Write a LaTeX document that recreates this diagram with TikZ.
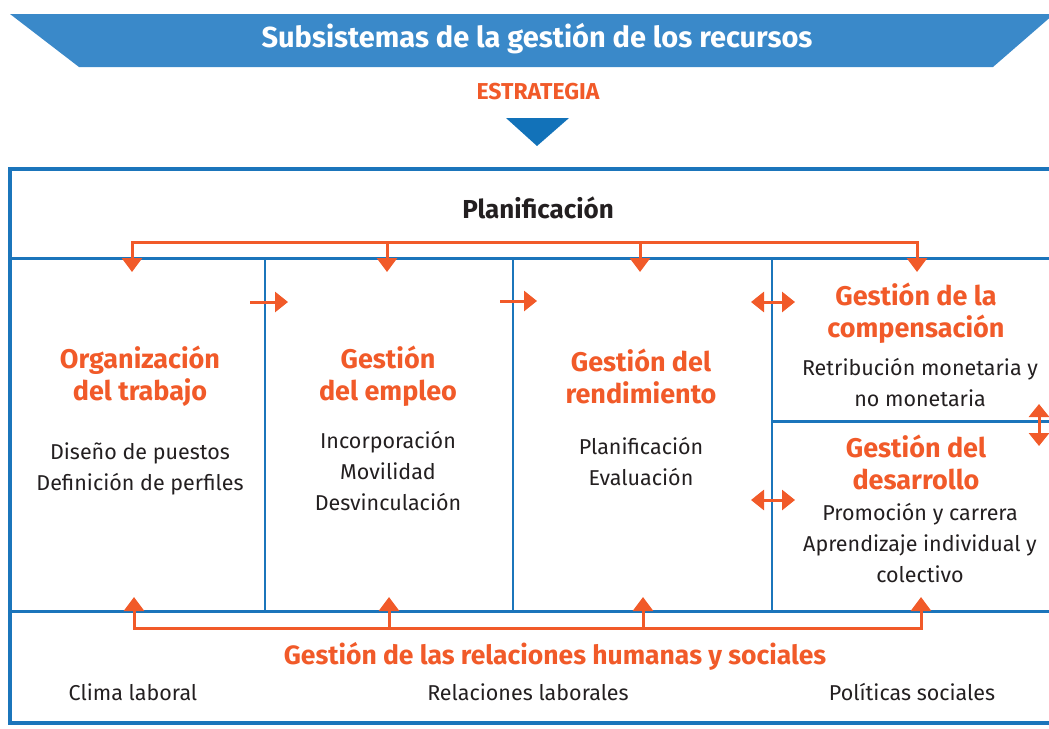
\documentclass[tikz,border=0pt]{standalone}
\usepackage{fontspec}
\setmainfont{Fira Sans}
\usetikzlibrary{arrows.meta}
\definecolor{bblue}{HTML}{1B75BB}
\definecolor{banner}{HTML}{3A89C9}
\definecolor{tri}{HTML}{1272B9}
\definecolor{org}{HTML}{F15A29}
\definecolor{txt}{HTML}{231F20}
\begin{document}
\begin{tikzpicture}[x=1pt,y=-1pt,
  frame/.style={draw=bblue, line width=4pt},
  hline/.style={draw=bblue, line width=3pt},
  vline/.style={draw=bblue, line width=2pt},
  oline/.style={draw=org, line width=3pt},
  oarr/.style={oline, -{Triangle[width=20pt,length=14pt]}},
  sarr/.style={oline, -{Triangle[width=20pt,length=13pt]}},
  darr/.style={oline, {Triangle[width=20pt,length=13pt]}-{Triangle[width=20pt,length=13pt]}},
  ttl/.style={font=\bfseries\fontsize{27}{32}\selectfont, text=org, align=center, inner sep=0pt},
  body/.style={font=\fontsize{21.5}{31}\selectfont, text=txt, align=center, inner sep=0pt},
]
\path[use as bounding box] (0,0) rectangle (1049,728);
\clip (0,0) rectangle (1049,728);
% banner
\fill[banner] (10,14) -- (1054,14) -- (993,67) -- (79,67) -- cycle;
\node[font=\bfseries\fontsize{29}{34}\selectfont, text=white, inner sep=0pt] (head) at (537,39) {Subsistemas de la gestión de los recursos};
\node[font=\bfseries\fontsize{23}{28}\selectfont, text=org, inner sep=0pt] (estr) at (538,92) {ESTRATEGIA};
\fill[tri] (506,118) -- (569,118) -- (537,146) -- cycle;
% frame
\draw[frame] (10,169) rectangle (1062,723);
\draw[hline] (10,258) -- (1062,258);
\draw[hline] (10,611) -- (1062,611);
\draw[vline] (265,258) -- (265,611);
\draw[vline] (513,258) -- (513,611);
\draw[vline] (772,258) -- (772,611);
\draw[hline] (772,421) -- (1062,421);
% texts
\node[font=\bfseries\fontsize{26}{30}\selectfont, text=txt, inner sep=0pt] (plan) at (538,208) {Planificación};
\node[ttl] (org1) at (140,376) {Organización\\del trabajo};
\node[body] (org2) at (140,469) {Diseño de puestos\\Definición de perfiles};
\node[ttl] (emp1) at (388,376) {Gestión\\del empleo};
\node[body] (emp2) at (388,471) {Incorporación\\Movilidad\\Desvinculación};
\node[ttl] (ren1) at (641,376) {Gestión del\\rendimiento};
\node[body] (ren2) at (641,462) {Planificación\\Evaluación};
\node[ttl] (com1) at (916,313) {Gestión de la\\compensación};
\node[body] (com2) at (920,383) {Retribución monetaria y\\no monetaria};
\node[ttl] (des1) at (916,462) {Gestión del\\desarrollo};
\node[body] (des2) at (920,543) {Promoción y carrera\\Aprendizaje individual y\\colectivo};
\node[font=\bfseries\fontsize{26.5}{30}\selectfont, text=org, inner sep=0pt] (rel) at (555,656) {Gestión de las relaciones humanas y sociales};
\node[body] (cl) at (133,692) {Clima laboral};
\node[body] (rl) at (528,692) {Relaciones laborales};
\node[body] (ps) at (912,692) {Políticas sociales};
% top tree
\coordinate (t1) at (132,242); \coordinate (t2) at (387,242);
\coordinate (t3) at (640,242); \coordinate (t4) at (917,242);
\coordinate (a1) at (132,272); \coordinate (a2) at (387,272);
\coordinate (a3) at (640,272); \coordinate (a4) at (917,272);
\draw[oline, {Triangle[width=20pt,length=14pt]}-{Triangle[width=20pt,length=14pt]}] (a1) -- (t1) -- (t4) -- (a4);
\draw[oarr] (t2) -- (a2);
\draw[oarr] (t3) -- (a3);
% bottom tree
\coordinate (b1) at (134,628); \coordinate (b2) at (389,628);
\coordinate (b3) at (643,628); \coordinate (b4) at (921,628);
\coordinate (u1) at (134,597); \coordinate (u2) at (389,597);
\coordinate (u3) at (643,597); \coordinate (u4) at (921,597);
\draw[oline, {Triangle[width=20pt,length=14pt]}-{Triangle[width=20pt,length=14pt]}] (u1) -- (b1) -- (b4) -- (u4);
\draw[oarr] (b2) -- (u2);
\draw[oarr] (b3) -- (u3);
% side arrows
\coordinate (s1a) at (250,302); \coordinate (s1b) at (288,302);
\coordinate (s2a) at (500,301); \coordinate (s2b) at (537,301);
\draw[sarr] (s1a) -- (s1b);
\draw[sarr] (s2a) -- (s2b);
\coordinate (d1a) at (751,302); \coordinate (d1b) at (795,302);
\coordinate (d2a) at (751,500); \coordinate (d2b) at (795,500);
\coordinate (d3a) at (1039,404); \coordinate (d3b) at (1039,446);
\draw[darr] (d1a) -- (d1b);
\draw[darr] (d2a) -- (d2b);
\draw[darr] (d3a) -- (d3b);
\end{tikzpicture}
\end{document}
